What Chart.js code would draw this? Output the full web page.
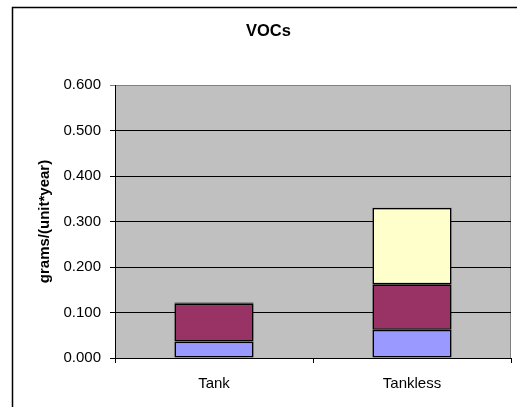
<!DOCTYPE html>
<html>
<head>
<meta charset="utf-8">
<script src="https://cdn.jsdelivr.net/npm/chart.js@4.4.1/dist/chart.umd.min.js"></script>
<style>
  html, body { margin: 0; padding: 0; background: #fff; }
  #wrap { position: relative; width: 517px; height: 407px; }
</style>
</head>
<body>
<div id="wrap"><canvas id="c" width="517" height="407"></canvas></div>
<script>
const categories = ["Tank", "Tankless"];
const series1 = [0.036, 0.062];
const series2 = [0.083, 0.100];
const series3 = [0.003, 0.168];
const yTickLabels = ["0.000", "0.100", "0.200", "0.300", "0.400", "0.500", "0.600"];

const bgPlugin = {
  id: 'bg',
  beforeDraw(chart) {
    const ctx = chart.ctx;
    const a = chart.chartArea;
    ctx.save();
    ctx.fillStyle = '#fff';
    ctx.fillRect(0, 0, chart.width, chart.height);
    ctx.strokeStyle = '#000';
    ctx.lineWidth = 1.5;
    ctx.strokeRect(12.5, 7.5, 600, 500);
    ctx.lineWidth = 1;
    ctx.fillStyle = '#C0C0C0';
    ctx.fillRect(a.left, a.top, a.right - a.left, a.bottom - a.top);
    ctx.strokeStyle = '#808080';
    ctx.strokeRect(a.left + 0.5, a.top + 0.5, a.right - a.left - 1, a.bottom - a.top);
    ctx.restore();
  }
};

new Chart(document.getElementById('c'), {
  type: 'bar',
  data: {
    labels: categories,
    datasets: [
      { label: 'Series1', data: series1, backgroundColor: '#9999FF', borderColor: '#000', borderWidth: 1.6, borderSkipped: false },
      { label: 'Series2', data: series2, backgroundColor: '#993366', borderColor: '#000', borderWidth: 1.6, borderSkipped: false },
      { label: 'Series3', data: series3, backgroundColor: '#FFFFCC', borderColor: '#000', borderWidth: 1.6, borderSkipped: false }
    ]
  },
  options: {
    responsive: false,
    animation: false,
    devicePixelRatio: 1,
    layout: { padding: { left: 26, right: 6, top: 0, bottom: 0 } },
    datasets: { bar: { categoryPercentage: 1.0, barPercentage: 0.4 } },
    plugins: {
      legend: { display: false },
      tooltip: { enabled: false },
      title: {
        display: true,
        text: 'VOCs',
        color: '#000',
        font: { family: 'Liberation Sans', size: 16.5, weight: 'bold' },
        padding: { top: 22, bottom: 43.2 }
      }
    },
    scales: {
      x: {
        stacked: true,
        offset: true,
        grid: { display: true, drawOnChartArea: false, drawTicks: true, tickLength: 5, color: '#000', offset: true },
        border: { display: true, color: '#000' },
        ticks: { color: '#000', padding: 12, font: { family: 'Liberation Sans', size: 15 } },
        afterFit(s) { s.height = 49; }
      },
      y: {
        stacked: true,
        min: 0,
        max: 0.6,
        ticks: {
          stepSize: 0.1,
          color: '#000',
          padding: 9,
          font: { family: 'Liberation Sans', size: 15 },
          callback: (v, i) => yTickLabels[i]
        },
        grid: {
          color: (ctx) => (ctx.tick && Math.abs(ctx.tick.value - 0.6) < 1e-9) ? '#808080' : '#000',
          tickLength: 5,
          drawTicks: true
        },
        border: { display: true, color: '#000' },
        title: {
          display: true,
          text: 'grams/(unit*year)',
          color: '#000',
          font: { family: 'Liberation Sans', size: 15, weight: 'bold' },
          padding: { top: 10, bottom: 0 }
        },
        afterFit(s) { s.width = 89; }
      }
    }
  },
  plugins: [bgPlugin]
});
</script>
</body>
</html>
